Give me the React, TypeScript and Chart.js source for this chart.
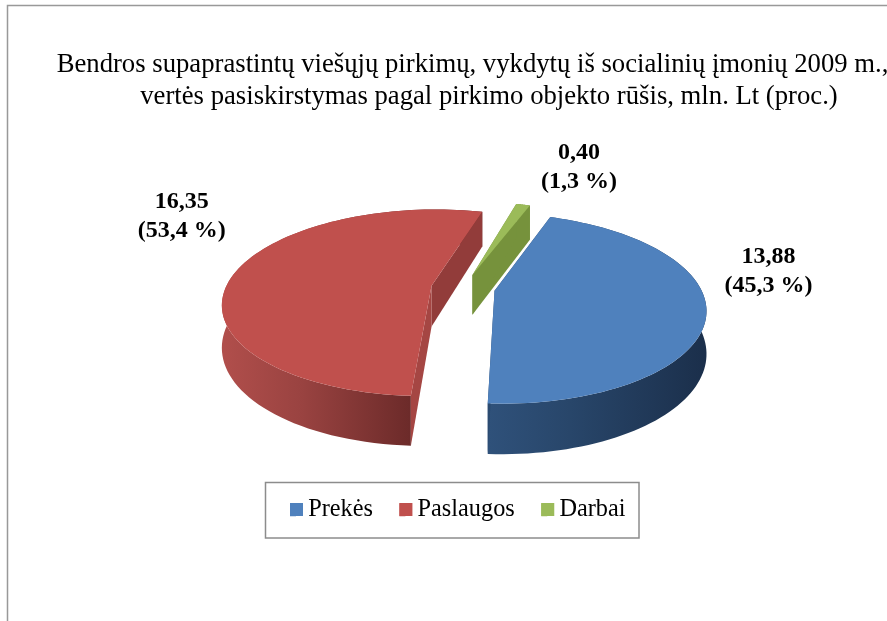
import React, { useEffect, useRef } from "react";
import { Chart, registerables } from "chart.js";

Chart.register(...registerables);

const categories = ["Prekės", "Paslaugos", "Darbai"];
const values = [13.88, 16.35, 0.4];
const shares = [45.3, 53.4, 1.3];
const titleLine = "Bendros supaprastintų viešųjų pirkimų, vykdytų iš socialinių įmonių 2009 m.,";
const subtitleLine = "vertės pasiskirstymas pagal pirkimo objekto rūšis, mln. Lt (proc.)";
const topColors = ["#4f81bd", "#c0504d", "#9bbb59"];
const startFaceColors = ["#2b4a70", "#a54643", "#76923c"];
const endFaceColors = ["#2b4a70", "#923c3a", "#76923c"];
const wallStops = [
  [[489, "#2f517a"], [570, "#28466a"], [705, "#1b2f4b"]],
  [[225, "#b04e4b"], [300, "#9a4341"], [413, "#6b2a29"]],
  [[470, "#76923c"], [530, "#76923c"]],
];

const FONT = '"Liberation Serif", "Times New Roman", serif';
const TITLE_SIZE = 26.7;
const CX = 463;
const CY = 288;
const RX = 206;
const RY = 91;
const PERSP = 0.183;
const DEPTH = 41;
const SLICE_OFFSET = 32;
const LABEL_SHIFT = [[62, -39], [-54, -55], [56, -37]];

function project(u: number, v: number, down: number) {
  const w = 1 - PERSP * v;
  return { x: CX + (RX * u) / w, y: CY + (RY * v + down) / w };
}

function trace(ctx: CanvasRenderingContext2D, pts: { x: number; y: number }[]) {
  ctx.beginPath();
  pts.forEach((p, i) => (i ? ctx.lineTo(p.x, p.y) : ctx.moveTo(p.x, p.y)));
  ctx.closePath();
}

const pie3d = {
  id: "pie3d",
  beforeDatasetsDraw(chart: any) {
    const ctx: CanvasRenderingContext2D = chart.ctx;
    const arcs = chart.getDatasetMeta(0).data;
    const order = [2, 1, 0];
    order.forEach((i) => {
      const arc = arcs[i];
      const { startAngle, endAngle } = arc;
      const mid = (startAngle + endAngle) / 2;
      const d = arc.options.offset / RX;
      const ou = d * Math.cos(mid);
      const ov = d * Math.sin(mid);
      const at = (r: number, a: number, down: number) =>
        project(ou + r * Math.cos(a), ov + r * Math.sin(a), down);
      const rim: number[] = [];
      const n = 90;
      for (let k = 0; k <= n; k++) rim.push(startAngle + ((endAngle - startAngle) * k) / n);

      ctx.save();
      // outer wall
      const stops = wallStops[i] as [number, string][];
      const g = ctx.createLinearGradient(stops[0][0], 0, stops[stops.length - 1][0], 0);
      stops.forEach(([x, c]) => g.addColorStop((x - stops[0][0]) / (stops[stops.length - 1][0] - stops[0][0]), c));
      ctx.fillStyle = g;
      trace(ctx, [...rim.map((a) => at(1, a, 0)), ...rim.slice().reverse().map((a) => at(1, a, DEPTH))]);
      ctx.fill();
      // flat side faces
      [endAngle, startAngle].forEach((a, k) => {
        ctx.fillStyle = k === 0 ? endFaceColors[i] : startFaceColors[i];
        trace(ctx, [at(0, a, 0), at(1, a, 0), at(1, a, DEPTH), at(0, a, DEPTH)]);
        ctx.fill();
      });
      // top face
      ctx.fillStyle = topColors[i];
      trace(ctx, [at(0, 0, 0), ...rim.map((a) => at(1, a, 0))]);
      ctx.fill();
      ctx.restore();
    });
    return false;
  },
  afterDraw(chart: any) {
    const ctx: CanvasRenderingContext2D = chart.ctx;
    const arcs = chart.getDatasetMeta(0).data;
    ctx.save();
    ctx.font = `bold 24px ${FONT}`;
    ctx.fillStyle = "#000";
    ctx.textAlign = "center";
    ctx.textBaseline = "middle";
    arcs.forEach((arc: any, i: number) => {
      const mid = (arc.startAngle + arc.endAngle) / 2;
      const d = arc.options.offset / RX;
      const p = project((1 + d) * Math.cos(mid), (1 + d) * Math.sin(mid), 0);
      const x = p.x + LABEL_SHIFT[i][0];
      const y = p.y + LABEL_SHIFT[i][1];
      ctx.fillText(values[i].toFixed(2).replace(".", ","), x, y - 14.5);
      ctx.fillText(`(${shares[i].toFixed(1).replace(".", ",")} %)`, x, y + 14.5);
    });
    // legend swatches
    const lg = chart.legend;
    const pad = lg.options.labels.padding;
    let x = lg.left + pad;
    lg.legendHitBoxes.forEach((b: any, i: number) => {
      ctx.fillStyle = topColors[i];
      ctx.fillRect(x, 503, 13, 13);
      x += b.width + pad;
    });
    ctx.restore();
  },
  beforeDraw(chart: any) {
    const ctx: CanvasRenderingContext2D = chart.ctx;
    ctx.save();
    ctx.fillStyle = "#fff";
    ctx.fillRect(0, 0, chart.width, chart.height);
    ctx.strokeStyle = "#999";
    ctx.lineWidth = 1.5;
    ctx.strokeRect(7.5, 5.5, 1000, 1000);
    ctx.strokeStyle = "#8c8c8c";
    ctx.lineWidth = 1.5;
    ctx.strokeRect(265.5, 482.5, 373.5, 55.5);
    ctx.restore();
  },
  afterLayout(chart: any) {
    const t = chart.titleBlock;
    const place = (box: any, center: number, midY: number) => {
      const h = box.bottom - box.top;
      box.left = center - 500;
      box.right = center + 500;
      box.top = midY - (TITLE_SIZE * 1.2) / 2;
      box.bottom = box.top + h;
    };
    place(t, 472.5, 65);
    const sub = chart.boxes.find((b: any) => b !== t && b !== chart.legend && b.position === "top");
    if (sub) place(sub, 489, 96.5);
    const lg = chart.legend;
    const h = lg.bottom - lg.top;
    lg.left = 263.5;
    lg.right = 900;
    lg.top = 509.5 - 12 - lg.options.labels.padding;
    lg.bottom = lg.top + h;
  },
};

export default function App() {
  const ref = useRef<HTMLCanvasElement>(null);
  useEffect(() => {
    document.body.style.margin = "0";
    const chart = new Chart(ref.current!, {
      type: "pie",
      data: {
        labels: categories,
        datasets: [{ data: values, backgroundColor: topColors, borderWidth: 0, offset: SLICE_OFFSET }],
      },
      options: {
        responsive: false,
        animation: false,
        rotation: 20,
        layout: { padding: 0 },
        plugins: {
          title: { display: true, text: titleLine, font: { family: FONT, size: TITLE_SIZE, weight: "normal" }, color: "#000", padding: 0 },
          subtitle: { display: true, text: subtitleLine, font: { family: FONT, size: TITLE_SIZE, weight: "normal" }, color: "#000", padding: 0 },
          legend: {
            display: true,
            position: "bottom",
            align: "start",
            labels: {
              boxWidth: 6,
              boxHeight: 13,
              padding: 26.5,
              color: "#000",
              font: { family: FONT, size: 24.3 },
            },
          },
          tooltip: { enabled: false },
        },
      },
      plugins: [pie3d],
    } as any);
    return () => chart.destroy();
  }, []);
  return <canvas ref={ref} width={887} height={621} style={{ display: "block" }} />;
}
